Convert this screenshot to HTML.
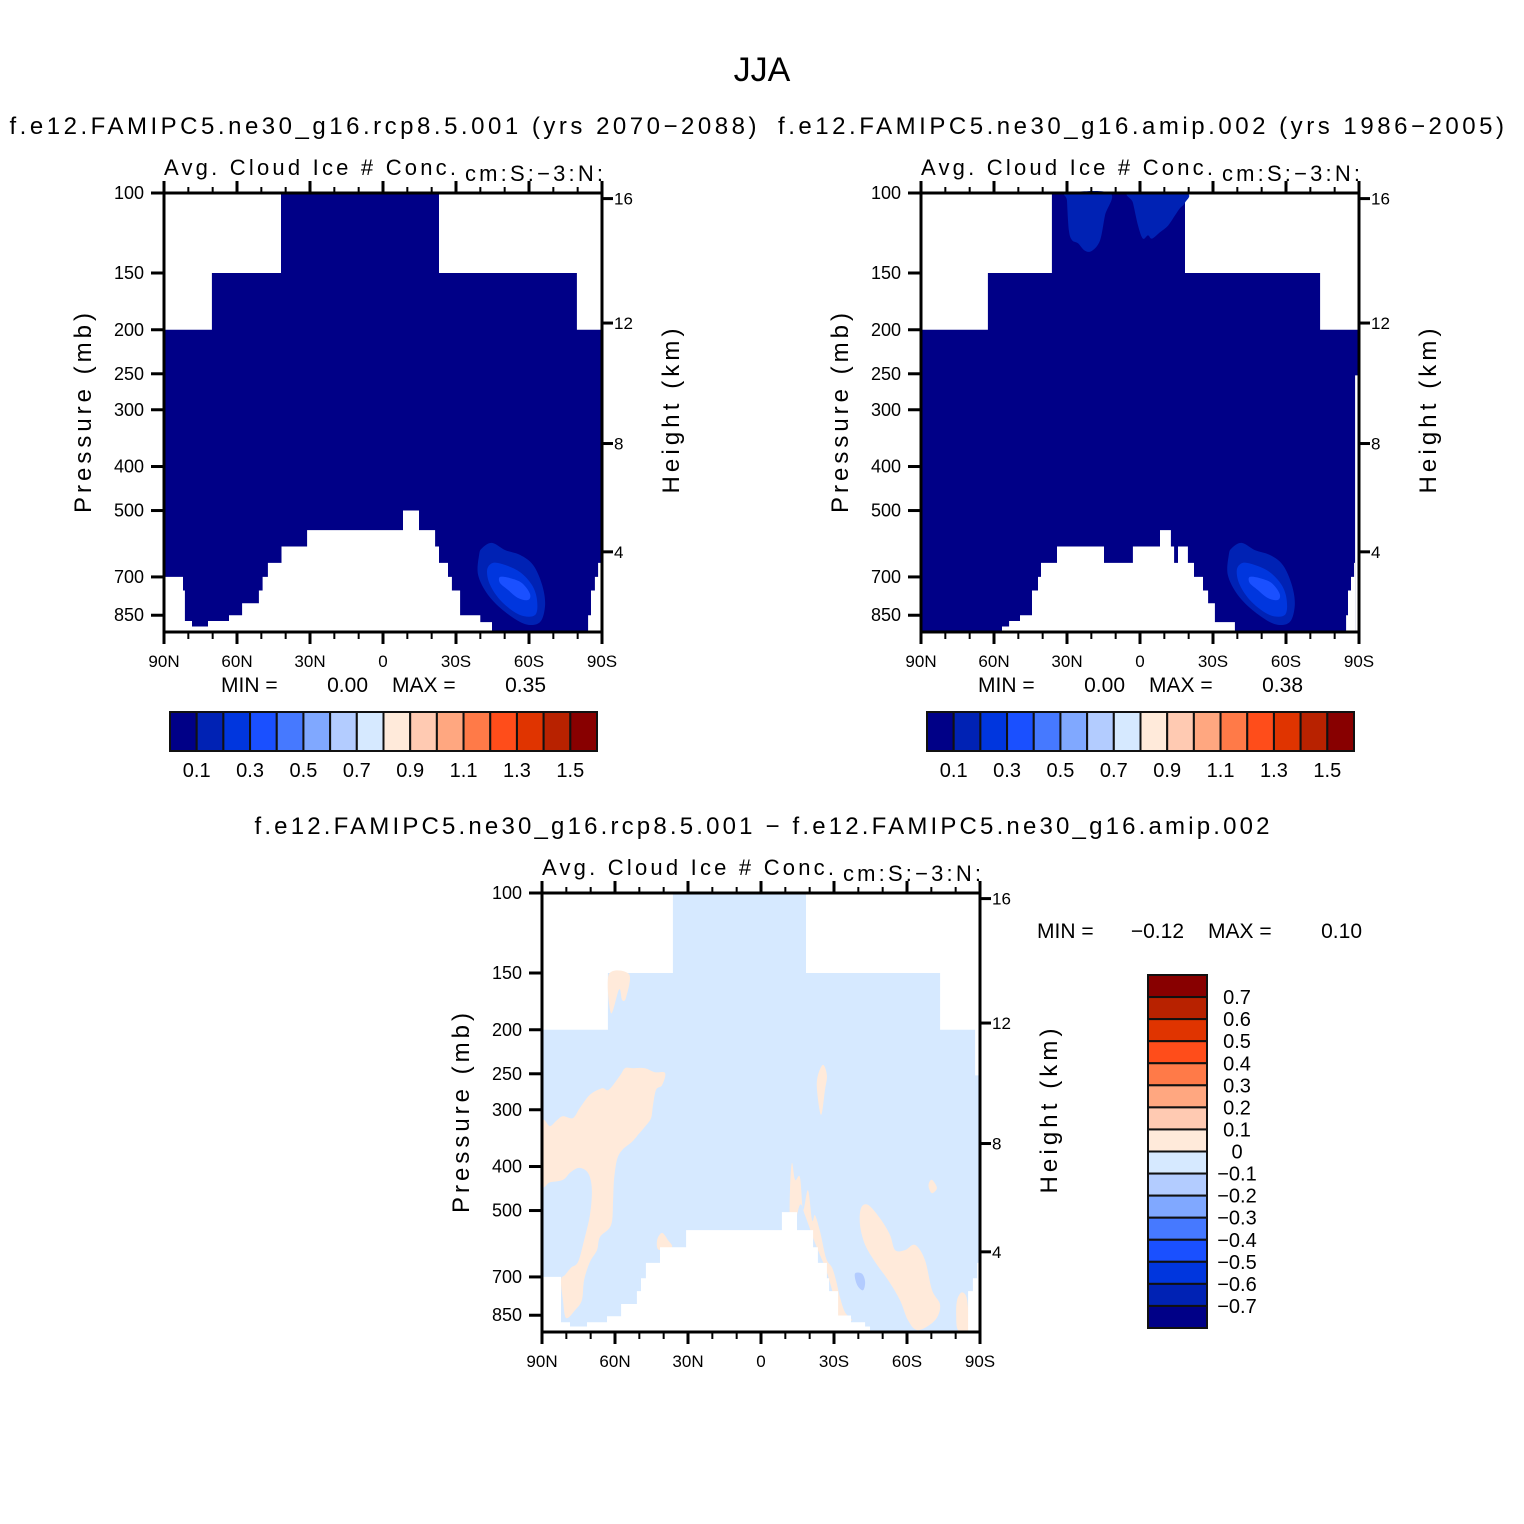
<!DOCTYPE html>
<html><head><meta charset="utf-8"><title>JJA Cloud Ice</title>
<style>
html,body{margin:0;padding:0;background:#fff;}
svg{display:block;font-family:"Liberation Sans",sans-serif;}
</style></head>
<body>
<svg id="fig" width="1524" height="1524" viewBox="0 0 1524 1524" xmlns="http://www.w3.org/2000/svg">
<rect x="0" y="0" width="1524" height="1524" fill="#fff"/>
<text x="762" y="81" font-size="34" text-anchor="middle">JJA</text>
<text x="383" y="134" font-size="24" text-anchor="middle" textLength="747">f.e12.FAMIPC5.ne30_g16.rcp8.5.001 (yrs 2070−2088)</text>
<text x="1141" y="134" font-size="24" text-anchor="middle" textLength="726">f.e12.FAMIPC5.ne30_g16.amip.002 (yrs 1986−2005)</text>
<text x="762" y="834" font-size="24" text-anchor="middle" textLength="1015">f.e12.FAMIPC5.ne30_g16.rcp8.5.001 − f.e12.FAMIPC5.ne30_g16.amip.002</text>
</svg>
<script>
// ---------- data ----------
const palette = ["#000087","#0022b4","#0036de","#1a50ff","#4679ff","#80a8ff","#b3ccff","#d6e9ff","#ffeada","#ffcab2","#ffa780","#ff7a48","#ff4d1a","#e03400","#b82200","#880000"];
const pressureTicks = [100,150,200,250,300,400,500,700,850];
const heightTicks = [16,12,8,4];
const latTicks = [90,60,30,0,-30,-60,-90];
const latTickLabels = ["90N","60N","30N","0","30S","60S","90S"];
const latMinorTicks = [80,70,50,40,20,10,-10,-20,-40,-50,-70,-80];
const cbLevels = [0.1,0.2,0.3,0.4,0.5,0.6,0.7,0.8,0.9,1.0,1.1,1.2,1.3,1.4,1.5];
const diffLevels = [0.7,0.6,0.5,0.4,0.3,0.2,0.1,0,-0.1,-0.2,-0.3,-0.4,-0.5,-0.6,-0.7];
const panelStats = [[0.00,0.35],[0.00,0.38],[-0.12,0.10]];

const p1Domain = [[90,200],[70.3,200],[70.3,150],[41.9,150],[41.9,100],[-23,100],[-23,150],[-79.7,150],[-79.7,200],[-90,200],[-90,925],[90,925]];
const p1MaskA = [[90,700],[82.2,700],[82.2,750],[81.4,750],[81.4,875],[78.5,875],[78.5,900],[71.9,900],[71.9,875],[63.3,875],[63.3,850],[57.9,850],[57.9,800],[51,800],[51,750],[49.5,750],[49.5,700],[47.3,700],[47.3,652],[41.7,652],[41.7,600],[31.2,600],[31.2,552],[-8.2,552],[-8.2,500],[-14.8,500],[-14.8,552],[-21.4,552],[-21.4,600],[-23,600],[-23,652],[-26.7,652],[-26.7,700],[-28.3,700],[-28.3,750],[-31.7,750],[-31.7,850],[-40,850],[-40,880],[-44.8,880],[-44.8,925],[90,925]];
const p1MaskB = [[-84.3,925],[-84.3,850],[-85.5,850],[-85.5,750],[-87.1,750],[-87.1,700],[-88.4,700],[-88.4,652],[-90,652],[-90,925]];
const p1Blob1 = [[-40.7,605],[-44.8,589],[-50.2,611],[-56.3,626],[-61.7,659],[-65.4,729],[-66.6,807],[-64.5,880],[-58.4,889],[-50.2,836],[-43.2,767],[-39.1,693],[-39.5,626]];
const p1Blob2 = [[-45.2,652],[-50.2,659],[-56.3,683],[-61.2,729],[-63.3,787],[-62.5,849],[-56.3,849],[-48.9,795],[-44,729],[-42.8,676]];
const p1Blob3 = [[-48.1,700],[-52.2,704],[-57.1,722],[-60.4,763],[-59.6,787],[-55.5,779],[-51.4,748],[-48.1,722]];

const p2Domain = [[90,200],[62.5,200],[62.5,150],[36.2,150],[36.2,100],[-18.5,100],[-18.5,150],[-74,150],[-74,200],[-90,200],[-90,252],[-88.4,252],[-88.4,925],[90,925]];
const p2MaskA = [[56.7,925],[56.7,900],[53.8,900],[53.8,875],[49.3,875],[49.3,850],[44.4,850],[44.4,750],[41.9,750],[41.9,700],[40.7,700],[40.7,652],[34.1,652],[34.1,600],[14.8,600],[14.8,652],[2.9,652],[2.9,600],[-8.2,600],[-8.2,552],[-12.7,552],[-12.7,600],[-14,600],[-14,652],[-15.6,652],[-15.6,600],[-19.7,600],[-19.7,652],[-22.2,652],[-22.2,700],[-25.9,700],[-25.9,750],[-28,750],[-28,800],[-30.8,800],[-30.8,880],[-39,880],[-39,925]];
const p2MaskB = [[-84.7,925],[-84.7,850],[-85.5,850],[-85.5,750],[-86.7,750],[-86.7,700],[-88,700],[-88,652],[-88.4,652],[-88.4,925]];
const p2TopLobeN = [[30,100],[12.3,100],[14.4,112],[16.4,127],[19.7,134],[22.6,134],[25.5,129],[27.9,127],[29.2,121],[30,104]];
const p2TopLobeS = [[4.1,100],[-18.5,100],[-18.5,105],[-16.4,108],[-14.4,112],[-11.5,118],[-8.2,122],[-4.9,126],[-3.3,124],[-1.2,126],[0.8,118],[2.9,105]];
const p2Blob1 = [[-37.7,605],[-41.8,589],[-47.2,611],[-53.3,626],[-58.7,659],[-62.4,729],[-63.6,807],[-61.5,880],[-55.4,889],[-47.2,836],[-40.2,767],[-36.1,693],[-36.5,626]];
const p2Blob2 = [[-42.2,652],[-47.2,659],[-53.3,683],[-58.2,729],[-60.3,787],[-59.5,849],[-53.3,849],[-45.9,795],[-41,729],[-39.8,676]];
const p2Blob3 = [[-45.1,700],[-49.2,704],[-54.1,722],[-57.4,763],[-56.6,787],[-52.5,779],[-48.4,748],[-45.1,722]];

const p3Domain = [[90,200],[62.9,200],[62.9,150],[36.2,150],[36.2,100],[-18.5,100],[-18.5,150],[-73.6,150],[-73.6,200],[-88,200],[-88,252],[-90,252],[-90,925],[90,925]];
const p3MaskA = [[90,700],[82.2,700],[82.2,881],[78.5,881],[78.5,900],[71.5,900],[71.5,881],[63.3,881],[63.3,854],[57.5,854],[57.5,803],[51,803],[51,752],[49.3,752],[49.3,705],[47.3,705],[47.3,652],[41.5,652],[41.5,602],[30.8,602],[30.8,552],[-8.6,552],[-8.6,504],[-14.8,504],[-14.8,552],[-21.4,552],[-21.4,602],[-23.4,602],[-23.4,652],[-27.1,652],[-27.1,705],[-28,705],[-28,752],[-31.7,752],[-31.7,851],[-37,851],[-37,881],[-42.8,881],[-42.8,900],[-44.8,900],[-44.8,925],[90,925]];
const p3MaskB = [[-85.1,925],[-85.1,752],[-87.1,752],[-87.1,705],[-88.8,705],[-88.8,652],[-90,652],[-90,925]];
const p3PosA = [[90,321],[86.7,326],[83.8,316],[81.4,310],[77.3,313],[74.4,297],[70.3,278],[65.3,269],[62.5,271],[57.9,252],[55.9,243],[52.6,243],[47.7,243],[43.6,248],[39.4,249],[40.7,265],[43.1,271],[44.4,293],[45.2,313],[47.7,327],[51,343],[53,353],[57.1,368],[59.2,387],[60.4,428],[60.8,474],[61.6,538],[66.2,572],[67.4,611],[70.3,649],[72.7,711],[73.6,787],[76.4,828],[80.1,862],[81.4,787],[82.2,711],[80.5,693],[78.1,668],[75.2,649],[72.7,581],[70.3,512],[69.5,455],[70.3,422],[72.3,407],[75.2,403],[78.5,413],[81.4,428],[86.7,433],[90,435]];
const p3PosB = [[62.5,151],[54.2,151],[55.5,170],[57.1,172],[58.3,163],[61.6,184]];
const p3PosC = [[-23.4,252],[-25.5,239],[-27.1,252],[-26.3,271],[-24.7,308],[-23,271]];
const p3PosD = [[-12.7,393],[-14,428],[-16,422],[-17.3,498],[-19.3,451],[-21,525],[-22.2,512],[-24.3,557],[-26.7,636],[-29.2,668],[-30.8,711],[-32.5,778],[-34.5,837],[-37.4,872],[-32.5,872],[-30.4,807],[-29.2,749],[-26.7,675],[-24.3,627],[-21.8,581],[-18.1,512],[-16,486],[-13.2,557],[-11.9,538],[-11.9,451]];
const p3PosE = [[42.7,581],[40.7,560],[38.2,581],[36.6,602],[42,610]];
const p3PosF = [[-41.1,494],[-44,486],[-48.9,520],[-53,566],[-55.1,611],[-59.2,611],[-63.3,595],[-67.4,643],[-70.3,749],[-73.6,807],[-71.5,872],[-64.5,917],[-60.4,872],[-57.1,787],[-52.2,711],[-46.9,649],[-42.8,595],[-40.7,538]];
const p3PosG = [[-80.6,787],[-82.6,757],[-84.7,787],[-85.1,917],[-81,917],[-80.2,851]];
const p3PosH = [[-69,435],[-70.3,428],[-72.3,446],[-70.3,458],[-69,446]];
const p3NegI = [[-38.6,689],[-41.5,689],[-42.8,718],[-41.9,749],[-39.5,729]];

// ---------- drawing ----------
const NS = "http://www.w3.org/2000/svg";
const svg = document.getElementById("fig");
const PW = 438, PH = 439, PSCALE = 197.3;
function mk(tag, attrs, parent) {
  const e = document.createElementNS(NS, tag);
  for (const k in attrs) e.setAttribute(k, attrs[k]);
  (parent || svg).appendChild(e);
  return e;
}
function stdPressure(zkm) {
  const z = zkm * 1000;
  if (z <= 11000) return 1013.25 * Math.pow(1 - 2.25577e-5 * z, 5.25588);
  return 226.32 * Math.exp(-0.000157688 * (z - 11000));
}
function makeAxes(x0, y0) {
  return {
    x: lat => x0 + (90 - lat) / 180 * PW,
    y: p => y0 + PSCALE * Math.log(p / 100)
  };
}
function polyPts(ax, arr) { return arr.map(d => ax.x(d[0]).toFixed(1) + "," + ax.y(d[1]).toFixed(1)).join(" "); }
function smoothPath(ax, arr) {
  const pts = arr.map(d => [ax.x(d[0]), ax.y(d[1])]);
  const n = pts.length;
  let s = "M" + pts[0][0].toFixed(1) + "," + pts[0][1].toFixed(1);
  for (let i = 0; i < n; i++) {
    const p0 = pts[(i - 1 + n) % n], p1 = pts[i], p2 = pts[(i + 1) % n], p3 = pts[(i + 2) % n];
    const c1 = [p1[0] + (p2[0] - p0[0]) / 6, p1[1] + (p2[1] - p0[1]) / 6];
    const c2 = [p2[0] - (p3[0] - p1[0]) / 6, p2[1] - (p3[1] - p1[1]) / 6];
    s += " C" + c1[0].toFixed(1) + "," + c1[1].toFixed(1) + " " + c2[0].toFixed(1) + "," + c2[1].toFixed(1) + " " + p2[0].toFixed(1) + "," + p2[1].toFixed(1);
  }
  return s + "Z";
}
function addPoly(g, ax, arr, fill, name) {
  const e = mk("polygon", {points: polyPts(ax, arr), fill: fill}, g);
  
  
  return e;
}
function addBlob(g, ax, arr, fill, name) {
  const e = mk("path", {d: smoothPath(ax, arr), fill: fill}, g);
  
  
  return e;
}
function drawFrame(prefix, x0, y0, ax) {
  const g = mk("g", {});
  
  
  mk("rect", {x: x0, y: y0, width: PW, height: PH, fill: "none", stroke: "#000", "stroke-width": 3}, g);
  pressureTicks.forEach(p => {
    const y = ax.y(p);
    mk("line", {x1: x0 - 13, x2: x0, y1: y, y2: y, stroke: "#000", "stroke-width": 3}, g);
    const t = mk("text", {x: x0 - 20, y: y + 6, "font-size": 18, "text-anchor": "end"}, g);
    t.textContent = p;
    
    
  });
  heightTicks.forEach(h => {
    const y = ax.y(stdPressure(h));
    mk("line", {x1: x0 + PW, x2: x0 + PW + 11, y1: y, y2: y, stroke: "#000", "stroke-width": 3}, g);
    const t = mk("text", {x: x0 + PW + 12, y: y + 6, "font-size": 17}, g);
    t.textContent = h;
    
    
  });
  latTicks.forEach((lat, i) => {
    const x = ax.x(lat);
    mk("line", {x1: x, x2: x, y1: y0 + PH, y2: y0 + PH + 12, stroke: "#000", "stroke-width": 3}, g);
    mk("line", {x1: x, x2: x, y1: y0, y2: y0 - 12, stroke: "#000", "stroke-width": 3}, g);
    const t = mk("text", {x: x, y: y0 + PH + 35, "font-size": 17, "text-anchor": "middle"}, g);
    t.textContent = latTickLabels[i];
    
    
  });
  latMinorTicks.forEach(lat => {
    const x = ax.x(lat);
    mk("line", {x1: x, x2: x, y1: y0 + PH, y2: y0 + PH + 7, stroke: "#000", "stroke-width": 2}, g);
    mk("line", {x1: x, x2: x, y1: y0, y2: y0 - 6, stroke: "#000", "stroke-width": 2}, g);
  });
  const yt = mk("text", {x: 0, y: 0, "font-size": 24, "text-anchor": "middle", textLength: 200,
    transform: "translate(" + (x0 - 73) + "," + (y0 + 220) + ") rotate(-90)"}, g);
  yt.textContent = "Pressure (mb)";
  
  
  const ht = mk("text", {x: 0, y: 0, "font-size": 24, "text-anchor": "middle", textLength: 165,
    transform: "translate(" + (x0 + PW + 77) + "," + (y0 + 218) + ") rotate(-90)"}, g);
  ht.textContent = "Height (km)";
  
  
  const lt = mk("text", {x: x0, y: y0 - 18, "font-size": 22, textLength: 292}, g);
  lt.textContent = "Avg. Cloud Ice # Conc.";
  
  
  const ut = mk("text", {x: x0 + 301, y: y0 - 12, "font-size": 22, textLength: 138}, g);
  ut.textContent = "cm:S:−3:N:";
  
  
}
function fmt(v) { return (v < 0 ? "−" : "") + Math.abs(v).toFixed(2); }
function drawStats(prefix, x, y, stats) {
  const g = mk("g", {"font-size": 21});
  
  
  mk("text", {x: x, y: y}, g).textContent = "MIN  =";
  mk("text", {x: x + 147, y: y, "text-anchor": "end"}, g).textContent = fmt(stats[0]);
  mk("text", {x: x + 171, y: y}, g).textContent = "MAX  =";
  mk("text", {x: x + 325, y: y, "text-anchor": "end"}, g).textContent = fmt(stats[1]);
}
function drawHCbar(prefix, x0, y0) {
  const g = mk("g", {});
  
  
  const w = 427 / palette.length;
  palette.forEach((c, i) => {
    const r = mk("rect", {x: x0 + i * w, y: y0, width: w, height: 39, fill: c, stroke: "#111", "stroke-width": 2}, g);
    
    
  });
  cbLevels.forEach((v, i) => {
    if (i % 2 !== 0) return;
    const t = mk("text", {x: x0 + (i + 1) * w, y: y0 + 65, "font-size": 20, "text-anchor": "middle"}, g);
    t.textContent = v.toFixed(1);
    
    
  });
}
function drawVCbar(x0, y0) {
  const g = mk("g", {});
  
  
  const h = 353 / palette.length;
  palette.slice().reverse().forEach((c, i) => {
    const r = mk("rect", {x: x0, y: y0 + i * h, width: 59, height: h, fill: c, stroke: "#111", "stroke-width": 2}, g);
    
    
  });
  diffLevels.forEach((v, i) => {
    const t = mk("text", {x: x0 + 89, y: y0 + (i + 1) * h + 7, "font-size": 20, "text-anchor": "middle"}, g);
    t.textContent = v === 0 ? "0" : (v < 0 ? "−" : "") + Math.abs(v).toFixed(1);
    
    
  });
}

(function () {
  const x0 = 164, y0 = 193, ax = makeAxes(x0, y0);
  const g = mk("g", {});
  
  
  addPoly(g, ax, p1Domain, palette[0], 'panel1-field');
  addBlob(g, ax, p1Blob1, palette[1], 'panel1-contour-0p1');
  addBlob(g, ax, p1Blob2, palette[2], 'panel1-contour-0p2');
  addBlob(g, ax, p1Blob3, palette[3], 'panel1-contour-0p3');
  addPoly(g, ax, p1MaskA, "#fff", 'panel1-missing-region');
  addPoly(g, ax, p1MaskB, "#fff", 'panel1-missing-region');
  drawFrame('panel1', x0, y0, ax);
  drawStats('panel1', 221, 692, panelStats[0]);
  drawHCbar('panel1', 170, 712);
})();
(function () {
  const x0 = 921, y0 = 193, ax = makeAxes(x0, y0);
  const g = mk("g", {});
  
  
  addPoly(g, ax, p2Domain, palette[0], 'panel2-field');
  addBlob(g, ax, p2TopLobeN, palette[1], 'panel2-upper-contour');
  addBlob(g, ax, p2TopLobeS, palette[1], 'panel2-upper-contour');
  addBlob(g, ax, p2Blob1, palette[1], 'panel2-contour-0p1');
  addBlob(g, ax, p2Blob2, palette[2], 'panel2-contour-0p2');
  addBlob(g, ax, p2Blob3, palette[3], 'panel2-contour-0p3');
  addPoly(g, ax, p2MaskA, "#fff", 'panel2-missing-region');
  addPoly(g, ax, p2MaskB, "#fff", 'panel2-missing-region');
  drawFrame('panel2', x0, y0, ax);
  drawStats('panel2', 978, 692, panelStats[1]);
  drawHCbar('panel2', 927, 712);
})();
(function () {
  const x0 = 542, y0 = 893, ax = makeAxes(x0, y0);
  const g = mk("g", {});
  
  
  addPoly(g, ax, p3Domain, palette[7], 'diff-field');
  [p3PosA, p3PosB, p3PosC, p3PosD, p3PosE, p3PosF, p3PosG, p3PosH].forEach(a => addBlob(g, ax, a, palette[8], 'diff-positive-region'));
  addBlob(g, ax, p3NegI, palette[6], 'diff-negative-region');
  addPoly(g, ax, p3MaskA, "#fff", 'diff-missing-region');
  addPoly(g, ax, p3MaskB, "#fff", 'diff-missing-region');
  drawFrame('diff', x0, y0, ax);
  drawStats('diff', 1037, 938, panelStats[2]);
  drawVCbar(1148, 975);
})();
</script>
</body></html>
